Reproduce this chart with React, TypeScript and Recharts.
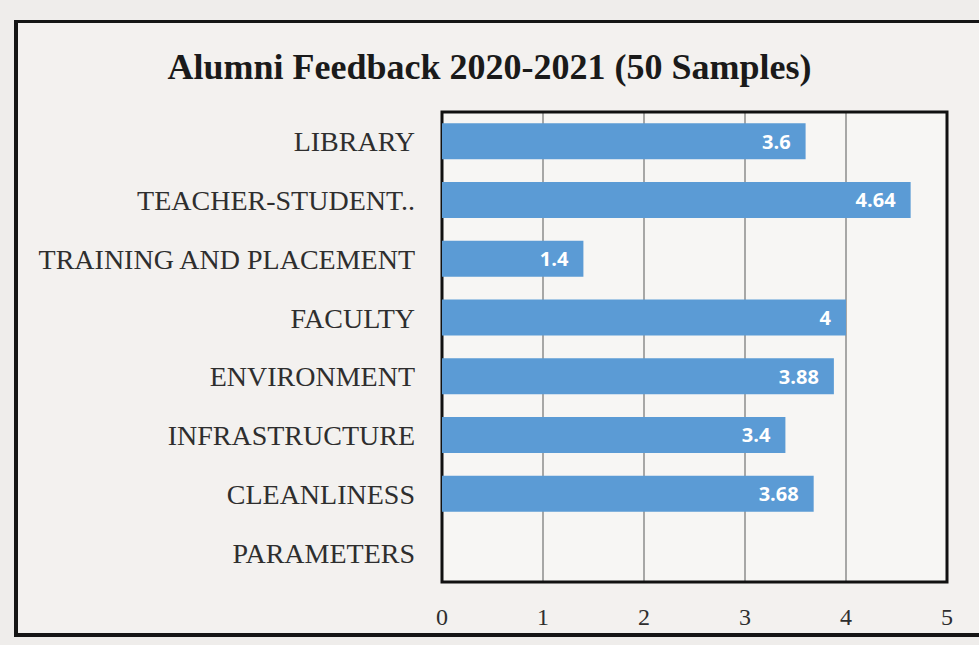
import { BarChart, Bar, XAxis, YAxis, CartesianGrid, ReferenceArea, LabelList } from 'recharts';

// Alumni feedback parameters, top to bottom as printed
const categories = [
  'LIBRARY',
  'TEACHER-STUDENT..',
  'TRAINING AND PLACEMENT',
  'FACULTY',
  'ENVIRONMENT',
  'INFRASTRUCTURE',
  'CLEANLINESS',
  'PARAMETERS',
];
const scores = [3.6, 4.64, 1.4, 4, 3.88, 3.4, 3.68, 0];
const xTicks = [0, 1, 2, 3, 4, 5];

const chartData = categories.map((name, i) => ({ name, score: scores[i] }));

const serif = '"Liberation Serif", "Times New Roman", serif';

// value label sits inside the bar end, but never left of the axis
const ValueLabel = (props: any) => {
  const { x, y, width, height, value } = props;
  const tx = Math.max(x + width - 15, x + 25);
  return (
    <text
      x={tx}
      y={y + height / 2}
      textAnchor="end"
      dominantBaseline="central"
      fill="#ffffff"
      fontSize={20}
      fontWeight={700}
      fontFamily='"Open Sans", sans-serif'
    >
      {value}
    </text>
  );
};

export default function App() {
  return (
    <div
      style={{
        position: 'absolute',
        left: 0,
        top: 0,
        width: 979,
        height: 645,
        overflow: 'hidden',
        background: '#efedeb',
      }}
    >
      {/* outer frame of the printed chart */}
      <div
        style={{
          position: 'absolute',
          left: 14,
          top: 20,
          width: 990,
          height: 610,
          borderLeft: '4px solid #151515',
          borderTop: '3px solid #151515',
          borderBottom: '4px solid #151515',
          background: '#f3f1ef',
        }}
      />
      <div
        style={{
          position: 'absolute',
          left: 0,
          width: 979,
          top: 44,
          textAlign: 'center',
          fontFamily: serif,
          fontWeight: 700,
          fontSize: 36,
          color: '#1a1a1a',
          lineHeight: '46px',
        }}
      >
        Alumni Feedback 2020-2021 (50 Samples)
      </div>
      <div style={{ position: 'absolute', left: 0, top: 0 }}>
        <BarChart
          width={979}
          height={645}
          layout="vertical"
          data={chartData}
          margin={{ top: 112, right: 32, bottom: 23, left: 0 }}
          barCategoryGap="19%"
        >
          <CartesianGrid
            horizontal={false}
            stroke="#8c8c8c"
            strokeWidth={1.5}
            fill="#f7f6f4"
            fillOpacity={1}
          />
          <XAxis
            type="number"
            domain={[0, 5]}
            ticks={xTicks}
            axisLine={false}
            tickLine={false}
            height={40}
            tickMargin={20}
            tick={{ fontSize: 24, fill: '#2e2e2e', fontFamily: serif }}
          />
          <YAxis
            type="category"
            dataKey="name"
            width={442}
            axisLine={false}
            tickLine={false}
            tickMargin={21}
            interval={0}
            tick={{ fontSize: 28, fill: '#2e2e2e', fontFamily: serif }}
          />
          <Bar dataKey="score" fill="#5b9bd5" isAnimationActive={false}>
            <LabelList dataKey="score" content={<ValueLabel />} />
          </Bar>
          <ReferenceArea x1={0} x2={5} fill="none" stroke="#111" strokeWidth={3} />
        </BarChart>
      </div>
    </div>
  );
}
